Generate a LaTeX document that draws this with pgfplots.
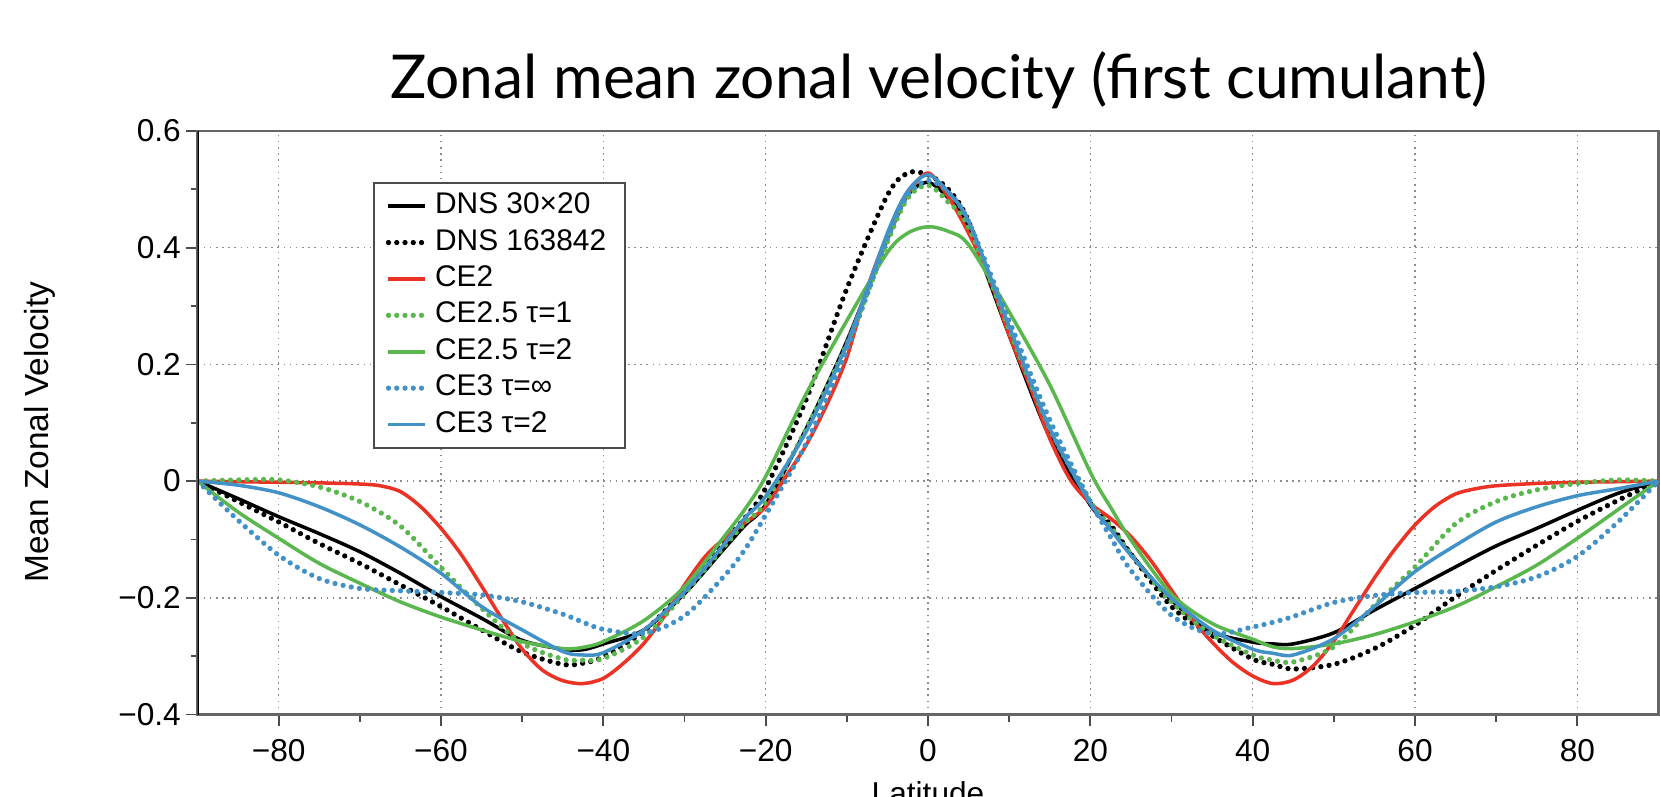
\documentclass[border=0pt]{standalone}
\usepackage{fontspec}
\setmainfont{Liberation Sans}
\newfontfamily\titlefont{Lato}
\usepackage{pgfplots}
\usepackage{pgfplotstable}
\pgfplotsset{compat=1.18}

\definecolor{cered}{RGB}{236,50,36}
\definecolor{cegreen}{RGB}{90,183,78}
\definecolor{ceblue}{RGB}{66,146,200}

\tikzset{
  solidline/.style={line width=1pt},
  dotline/.style={line width=1.5pt, line cap=round, dash pattern=on 0pt off 2.35pt},
}

% latitude, DNS 30x20, DNS 163842, CE2.5 tau=1, CE2.5 tau=2, CE3 tau=inf, CE3 tau=2
\pgfplotstableread{
lat    dnsA    dnsB    ceA     ceB     ceinf   cetwo
-90    0       0       0       0       0       0
-85   -0.030  -0.035   0.002  -0.053  -0.067  -0.007
-80   -0.061  -0.070   0.002  -0.098  -0.127  -0.020
-75   -0.090  -0.107  -0.010  -0.141  -0.167  -0.044
-70   -0.121  -0.141  -0.035  -0.175  -0.184  -0.075
-65   -0.158  -0.178  -0.077  -0.207  -0.188  -0.113
-60   -0.198  -0.215  -0.148  -0.233  -0.191  -0.158
-55   -0.235  -0.255  -0.218  -0.255  -0.195  -0.215
-50   -0.273  -0.293  -0.278  -0.275  -0.207  -0.255
-45   -0.288  -0.314  -0.305  -0.287  -0.228  -0.292
-42.5 -0.289  -0.312  -0.307  -0.285  -0.242  -0.298
-40   -0.279  -0.301  -0.304  -0.275  -0.254  -0.294
-35   -0.255  -0.257  -0.267  -0.239  -0.261  -0.255
-30   -0.193  -0.187  -0.193  -0.181  -0.231  -0.190
-25   -0.114  -0.103  -0.110  -0.093  -0.161  -0.106
-22.5 -0.075  -0.062  -0.071  -0.047  -0.116  -0.062
-20   -0.040  -0.012  -0.036   0.008  -0.058  -0.026
-15    0.090   0.140   0.090   0.150   0.065   0.085
-10    0.240   0.330   0.235   0.275   0.225   0.235
-5     0.415   0.490   0.410   0.392   0.415   0.425
-2.5   0.490   0.528   0.485   0.425   0.490   0.497
0      0.512   0.525   0.507   0.436   0.515   0.525
2.5    0.485   0.500   0.478   0.428   0.495   0.495
5      0.435   0.445   0.435   0.405   0.445   0.445
10     0.250   0.255   0.260   0.290   0.275   0.265
15     0.075   0.080   0.090   0.165   0.105   0.090
20    -0.041  -0.038  -0.035   0.015  -0.035  -0.038
22.5  -0.080  -0.075  -0.078  -0.045  -0.096  -0.083
25    -0.125  -0.125  -0.125  -0.101  -0.153  -0.127
30    -0.204  -0.215  -0.207  -0.194  -0.230  -0.201
35    -0.258  -0.265  -0.263  -0.244  -0.262  -0.255
40    -0.276  -0.305  -0.298  -0.271  -0.250  -0.288
42.5  -0.279  -0.314  -0.307  -0.284  -0.242  -0.295
45    -0.279  -0.322  -0.310  -0.287  -0.232  -0.298
50    -0.260  -0.314  -0.284  -0.279  -0.208  -0.270
55    -0.221  -0.287  -0.213  -0.263  -0.196  -0.215
60    -0.184  -0.247  -0.147  -0.241  -0.191  -0.155
65    -0.147  -0.198  -0.073  -0.215  -0.189  -0.110
70    -0.111  -0.153  -0.035  -0.181  -0.181  -0.070
75    -0.081  -0.110  -0.015  -0.144  -0.164  -0.044
80    -0.050  -0.069  -0.004  -0.098  -0.129  -0.025
85    -0.021  -0.033   0.002  -0.049  -0.070  -0.013
90     0       0       0       0       0       0
}\zonal

% CE2 has sharper bends, so it is read more densely
\pgfplotstableread{
lat    u
-90    0
-85   -0.001
-80   -0.002
-75   -0.003
-70   -0.005
-67.5 -0.008
-65   -0.018
-62.5 -0.044
-60   -0.081
-57.5 -0.126
-55   -0.180
-52.5 -0.236
-50   -0.288
-47.5 -0.324
-45   -0.342
-42.5 -0.347
-40   -0.338
-37.5 -0.312
-35   -0.278
-32.5 -0.232
-30   -0.178
-27.5 -0.130
-25   -0.097
-22.5 -0.071
-20   -0.044
-17.5  0.008
-15    0.062
-12.5  0.130
-10    0.212
-7.5   0.330
-5     0.422
-2.5   0.492
0      0.528
2.5    0.487
5      0.425
7.5    0.350
10     0.250
12.5   0.165
15     0.073
17.5   0.003
20    -0.038
22.5  -0.064
25    -0.095
27.5  -0.137
30    -0.187
32.5  -0.236
35    -0.276
37.5  -0.310
40    -0.334
42.5  -0.347
45    -0.341
47.5  -0.316
50    -0.274
52.5  -0.220
55    -0.166
57.5  -0.117
60    -0.075
62.5  -0.043
65    -0.022
67.5  -0.013
70    -0.008
75    -0.004
80    -0.002
85    -0.001
90     0
}\cetwo

\begin{document}
\begin{tikzpicture}
\begin{axis}[
  at={(19.75mm,8.25mm)}, anchor=south west,
  scale only axis, width=146.1mm, height=58.35mm,
  xmin=-90, xmax=90, ymin=-0.4, ymax=0.6,
  xtick={-80,-60,-40,-20,0,20,40,60,80},
  xticklabels={−80,−60,−40,−20,0,20,40,60,80},
  ytick={-0.4,-0.2,0,0.2,0.4,0.6},
  yticklabels={−0.4,−0.2,0,0.2,0.4,0.6},
  minor x tick num=1, minor y tick num=1,
  tick align=outside, xtick pos=bottom, ytick pos=left,
  major tick length=1.2mm, minor tick length=0.7mm,
  grid=major,
  grid style={black!45, line width=0.4pt, dash pattern=on 0.45pt off 1.3pt},
  axis line style={black!60, line width=0.6pt},
  tick style={black!70, line width=0.5pt},
  ticklabel style={font=\fontsize{9}{10}\selectfont},
  yticklabel style={inner xsep=0.4mm},
  xlabel={Latitude},
  xlabel style={at={(rel axis cs:0.5,-0.114)}, anchor=north, inner sep=0pt,
                font=\fontsize{9}{10}\selectfont},
  ylabel={Mean Zonal Velocity},
  ylabel style={at={(rel axis cs:-0.108,0.484)}, anchor=center, rotate=0,
                font=\fontsize{9.5}{11}\selectfont},
  legend style={at={(rel axis cs:0.1201,0.9125)}, anchor=north west,
                draw=black!70, line width=0.5pt,
                font=\fontsize{8.5}{9.5}\selectfont,
                inner xsep=1.2mm, inner ysep=0.5mm, row sep=0pt,
                nodes={inner ysep=0.47mm, text height=2.1mm, text depth=0.6mm}},
  legend cell align=left,
  legend image code/.code={\draw[#1] (0mm,0mm) -- (3.7mm,0mm);},
]
  \addplot[black, solidline, smooth] table[x=lat, y=dnsA] {\zonal};
  \addlegendentry{DNS 30×20}
  \addplot[black, dotline, smooth] table[x=lat, y=dnsB] {\zonal};
  \addlegendentry{DNS 163842}
  \addplot[cered, solidline, smooth] table[x=lat, y=u] {\cetwo};
  \addlegendentry{CE2}
  \addplot[cegreen, dotline, smooth] table[x=lat, y=ceA] {\zonal};
  \addlegendentry{CE2.5 τ=1}
  \addplot[cegreen, solidline, smooth] table[x=lat, y=ceB] {\zonal};
  \addlegendentry{CE2.5 τ=2}
  \addplot[ceblue, dotline, smooth] table[x=lat, y=ceinf] {\zonal};
  \addlegendentry{CE3 τ=∞}
  \addplot[ceblue, solidline, smooth] table[x=lat, y=cetwo] {\zonal};
  \addlegendentry{CE3 τ=2}
  % the left spine is drawn darker than the rest of the frame
  \draw[black, line width=0.6pt] (rel axis cs:0,0) -- (rel axis cs:0,1);
\end{axis}

\node[anchor=base, inner sep=0pt, font=\titlefont\fontsize{17.2}{19}\selectfont]
  at (93.9mm,69.8mm) {Zonal mean zonal velocity (first cumulant)};

\pgfresetboundingbox
\useasboundingbox (0,0) rectangle (166mm,79.7mm);
\end{tikzpicture}
\end{document}
